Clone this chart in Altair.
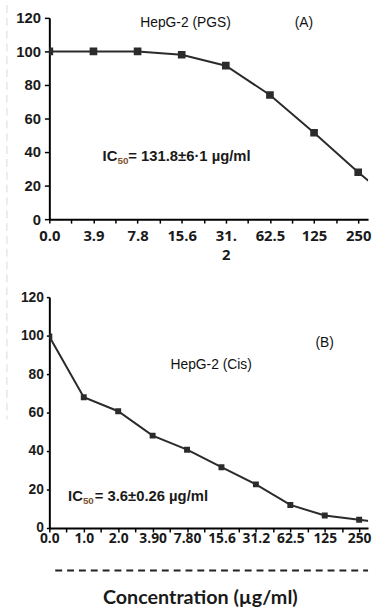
import json
import altair as alt
import pandas as pd

# ---------------- data ----------------
a_labels = ["0.0", "3.9", "7.8", "15.6", "31.2", "62.5", "125", "250"]
a_values = [100, 100, 100, 98, 91.5, 74, 51.5, 28, 6]   # last point lies beyond the cropped edge

b_labels = ["0.0", "1.0", "2.0", "3.90", "7.80", "15.6", "31.2", "62.5", "125", "250"]
b_values = [99.5, 68, 60.7, 48, 40.7, 31.6, 22.7, 12, 6.5, 4.3, 2]  # last point beyond edge

y_ticks = [0, 20, 40, 60, 80, 100, 120]

dfA = pd.DataFrame({"i": list(range(len(a_values))), "v": a_values})
dfB = pd.DataFrame({"i": list(range(len(b_values))), "v": b_values})

INK = "#2b2b2b"
W = 323
HA, HB = 204, 234


def one():
    return alt.Data(values=[{}])


def txt(t, x, y, size=14, font="Liberation Sans", weight="normal", align="left", color="#1a1a1a"):
    return alt.Chart(one()).mark_text(
        text=t, x=x, y=y, fontSize=size, font=font, fontWeight=weight,
        align=align, baseline="alphabetic", color=color)


def x_axis(labels, size, split_idx=None, pad=7):
    lab = json.dumps(labels)
    if split_idx is not None:
        expr = (f"datum.value % 1 != 0 ? '' : (datum.value == {split_idx} ? ['31.', '2'] : "
                f"{lab}[datum.value])")
    else:
        expr = f"datum.value % 1 != 0 ? '' : {lab}[datum.value]"
    return alt.Axis(
        values=[k * 0.5 for k in range(2 * len(labels) + 1)],
        labelExpr=expr, title=None, grid=False,
        domainColor="black", domainWidth=2, tickColor="black", tickWidth=1.5, tickSize=4,
        labelFont="Open Sans", labelFontWeight="bold", labelFontSize=size, labelColor="#1a1a1a",
        labelPadding=pad, labelFlush=False, labelOverlap=False, labelLineHeight=19,
        labelBaseline="top")


def y_axis(size, tick, pad):
    return alt.Axis(
        values=y_ticks, title=None, grid=False,
        domainColor="black", domainWidth=2, tickColor="black", tickWidth=1.5, tickSize=tick,
        labelFont="Liberation Sans", labelFontWeight="bold", labelFontSize=size,
        labelColor="#1a1a1a", labelPadding=pad)


# ---------------- panel A ----------------
stepA = 313 / 7
xA = alt.X("i:Q", scale=alt.Scale(domain=[0, W / stepA], nice=False, zero=False),
           axis=x_axis(a_labels, 15, split_idx=4, pad=6))
yA = alt.Y("v:Q", scale=alt.Scale(domain=[0, 120], nice=False), axis=y_axis(15, 5, 4))

baseA = alt.Chart(dfA).encode(x=xA, y=yA)
lineA = baseA.mark_line(color=INK, strokeWidth=2, clip=True)
ptsA = baseA.mark_point(shape="square", filled=True, size=60, color=INK, opacity=1, clip=True)

edge = alt.Chart(one()).mark_rule(color="#d9d9d9", strokeDash=[8, 5], strokeWidth=1).encode(
    x=alt.value(-43), y=alt.value(-13), y2=alt.value(407))

panelA = alt.layer(
    edge, lineA, ptsA,
    txt("HepG-2 (PGS)", 138, 9, align="center", color="#111111"),
    txt("(A)", 258, 9, align="center", color="#111111"),
    txt("IC", 54, 145, size=15, weight="bold"),
    txt("50", 69, 148, size=10, weight="bold", color="#7a5530"),
    txt("= 131.8±6·1 µg/ml", 80, 145, size=15, weight="bold"),
).properties(width=W, height=HA)

# ---------------- panel B ----------------
stepB = 314 / 9
xB = alt.X("i:Q", scale=alt.Scale(domain=[0, W / stepB], nice=False, zero=False),
           axis=x_axis(b_labels, 14, pad=0))
yB = alt.Y("v:Q", scale=alt.Scale(domain=[0, 120], nice=False), axis=y_axis(14, 3, 3))

baseB = alt.Chart(dfB).encode(x=xB, y=yB)
lineB = baseB.mark_line(color=INK, strokeWidth=2, clip=True)
ptsB = baseB.mark_point(shape="square", filled=True, size=36, color=INK, opacity=1, clip=True)

dash = alt.Chart(one()).mark_rule(color="#222222", strokeDash=[7, 5], strokeWidth=2).encode(
    x=alt.value(6), x2=alt.value(W), y=alt.value(277))

panelB = alt.layer(
    lineB, ptsB, dash,
    txt("(B)", 279, 51, align="center", color="#111111"),
    txt("HepG-2 (Cis)", 164, 73, align="center", color="#111111"),
    txt("IC", 19, 207, size=15, weight="bold"),
    txt("50", 34, 210, size=10, weight="bold", color="#7a5530"),
    txt("= 3.6±0.26  µg/ml", 46, 207, size=15, weight="bold"),
    txt("Concentration (µg/ml)", 153, 311, size=20, font="Lato", weight="bold", align="center"),
).properties(width=W, height=HB)

chart = alt.vconcat(panelA, panelB, spacing=79, bounds="flush").properties(
    padding={"left": 6, "top": 0, "right": 0, "bottom": 0},
    background="white",
).configure_view(strokeWidth=0)

chart.save("out.html", embed_options={"renderer": "svg", "actions": False})
